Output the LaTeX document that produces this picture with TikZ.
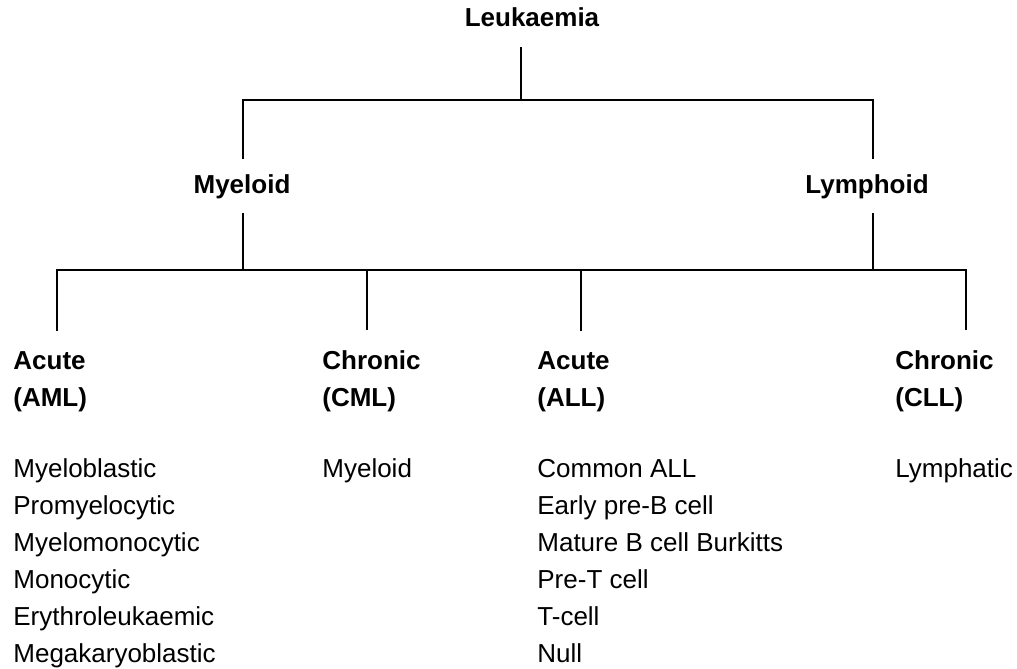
\documentclass[tikz,border=0pt]{standalone}
\usepackage{fontspec}
\setmainfont{Liberation Sans}
\newcommand\treefont{\fontsize{13}{18.5}\selectfont}
\tikzset{
  link/.style={draw=black,line width=1.2pt},
  title/.style={font=\treefont\bfseries,inner sep=0pt,outer ysep=7.5pt,anchor=base},
  group/.style={font=\treefont\bfseries,inner sep=0pt,outer ysep=10pt,anchor=base west,align=left},
  subtypes/.style={font=\treefont,inner sep=0pt,anchor=base west,align=left},
}
\begin{document}
\begin{tikzpicture}[x=0.5pt,y=-0.5pt]
\useasboundingbox (0,0) rectangle (1017,669);
% bar heights and stem positions
\coordinate (upper) at (0,100);
\coordinate (lower) at (0,270);
\coordinate (root) at (521,0);
\coordinate (cM) at (243,0);
\coordinate (cY) at (873,0);
\coordinate (cA) at (57,0);
\coordinate (cC) at (367,0);
\coordinate (cL) at (581,0);
\coordinate (cR) at (966,0);
\node[title,outer ysep=10.5pt] (leuk) at (532,26) {Leukaemia};
\node[title] (myel) at (242,193) {Myeloid};
\node[title] (lymph) at (867,193) {Lymphoid};
% multi-line nodes sit on their last baseline
\node[group] (aml) at (13,406) {Acute\\(AML)};
\node[group] (cml) at (322,406) {Chronic\\(CML)};
\node[group] (all) at (537,406) {Acute\\(ALL)};
\node[group] (cll) at (895,406) {Chronic\\(CLL)};
\node[subtypes] (amllist) at (13,662) {Myeloblastic\\Promyelocytic\\Myelomonocytic\\Monocytic\\Erythroleukaemic\\Megakaryoblastic};
\node[subtypes] (cmllist) at (322,477) {Myeloid};
\node[subtypes] (alllist) at (537,662) {Common ALL\\Early pre-B cell\\Mature B cell Burkitts\\Pre-T cell\\T-cell\\Null};
\node[subtypes] (clllist) at (895,477) {Lymphatic};
\draw[link] (leuk.south -| root) -- (root |- upper);
\draw[link] (myel.north -| cM) |- (cY |- upper) -- (lymph.north -| cY);
\draw[link] (myel.south -| cM) -- (cM |- lower);
\draw[link] (lymph.south -| cY) -- (cY |- lower);
\draw[link] (aml.north -| cA) |- (cR |- lower) -- (cll.north -| cR);
\draw[link] (cml.north -| cC) -- (cC |- lower);
\draw[link] (all.north -| cL) -- (cL |- lower);
\end{tikzpicture}
\end{document}
